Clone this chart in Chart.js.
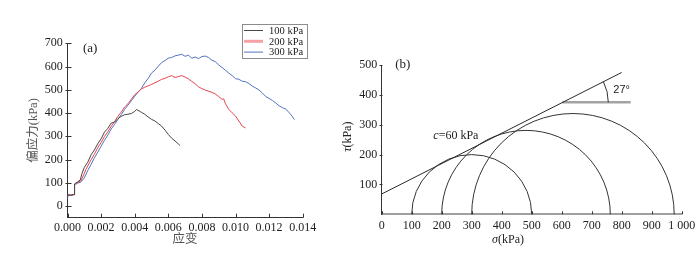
<!DOCTYPE html>
<html>
<head>
<meta charset="utf-8">
<script src="https://cdn.jsdelivr.net/npm/chart.js@4.4.1/dist/chart.umd.min.js"></script>
<style>
  html, body { margin: 0; padding: 0; background: #fff; }
  #wrap { position: relative; width: 700px; height: 261px; }
  #chart-a { position: absolute; left: 0; top: 0; }
  #chart-b { position: absolute; left: 340px; top: 0; }
</style>
</head>
<body>
<div id="wrap">
  <canvas id="chart-a" width="340" height="261"></canvas>
  <canvas id="chart-b" width="360" height="261"></canvas>
</div>
<script>
// (a) deviator stress vs strain
const strainTicks = [0, 0.002, 0.004, 0.006, 0.008, 0.010, 0.012, 0.014];
const stressTicks = [0, 100, 200, 300, 400, 500, 600, 700];
const seriesLabels = ['100 kPa', '200 kPa', '300 kPa'];

const strain100 = [0, 0.0002, 0.0004, 0.00042, 0.0006, 0.00076, 0.00086, 0.001, 0.0012, 0.0014,
  0.0016, 0.0018, 0.002, 0.0022, 0.0024, 0.0026, 0.0028, 0.003, 0.0032, 0.0034,
  0.0036, 0.0038, 0.004, 0.0041, 0.0042, 0.0044, 0.0046, 0.0048, 0.005, 0.0052,
  0.0054, 0.0056, 0.0058, 0.006, 0.0062, 0.0064, 0.0066, 0.0067];
const stress100 = [48, 47, 50, 95, 104, 112, 140, 166, 188, 220,
  241, 268, 289, 318, 334, 357, 361, 376, 386, 393,
  395, 398, 407, 415, 412, 403, 395, 383, 373, 366,
  355, 344, 327, 308, 292, 280, 267, 260];

const strain200 = [0, 0.0002, 0.0004, 0.00042, 0.0006, 0.0008, 0.00096, 0.0011, 0.0012, 0.0014,
  0.0016, 0.0018, 0.002, 0.0022, 0.0024, 0.0026, 0.0028, 0.003, 0.0032, 0.0034,
  0.0036, 0.0038, 0.004, 0.0042, 0.0044, 0.0046, 0.0048, 0.005, 0.0052, 0.0054,
  0.0056, 0.0058, 0.006, 0.0062, 0.0064, 0.0066, 0.0068, 0.007, 0.0072, 0.0074,
  0.0076, 0.0078, 0.008, 0.0082, 0.0084, 0.0086, 0.0088, 0.009, 0.0092, 0.0093,
  0.0094, 0.0096, 0.0098, 0.01, 0.0102, 0.0104, 0.0106];
const stress200 = [48, 47, 50, 94, 102, 108, 134, 158, 172, 199,
  223, 251, 273, 299, 319, 343, 363, 386, 404, 426,
  440, 459, 479, 491, 504, 511, 517, 523, 530, 537,
  545, 549, 556, 561, 553, 557, 561, 555, 547, 536,
  526, 513, 505, 499, 494, 489, 482, 471, 459, 461,
  440, 416, 401, 387, 366, 344, 336];

const strain300 = [0, 0.00003, 0.0002, 0.0004, 0.00042, 0.0006, 0.0008, 0.001, 0.0012, 0.0014,
  0.0016, 0.0018, 0.002, 0.0022, 0.0024, 0.0026, 0.0028, 0.003, 0.0032, 0.0034,
  0.0036, 0.0038, 0.004, 0.0042, 0.0044, 0.0046, 0.0048, 0.005, 0.0052, 0.0054,
  0.0056, 0.0058, 0.006, 0.0062, 0.0064, 0.0066, 0.0068, 0.007, 0.0072, 0.0074,
  0.0076, 0.0078, 0.008, 0.0082, 0.0084, 0.0086, 0.0088, 0.009, 0.0092, 0.0094,
  0.0096, 0.0098, 0.01, 0.0102, 0.0104, 0.0106, 0.0108, 0.011, 0.0112, 0.0114,
  0.0116, 0.0118, 0.012, 0.0122, 0.0124, 0.0126, 0.0128, 0.013, 0.0132, 0.0134,
  0.0135];
const stress300 = [30, 48, 46, 49, 92, 98, 104, 121, 152, 179,
  207, 232, 257, 283, 305, 331, 351, 373, 393, 416,
  434, 453, 472, 490, 506, 530, 549, 572, 584, 601,
  617, 626, 636, 639, 646, 649, 653, 644, 649, 636,
  641, 634, 643, 645, 639, 627, 621, 607, 596, 584,
  572, 561, 548, 545, 537, 535, 527, 516, 508, 499,
  486, 471, 463, 454, 443, 431, 423, 417, 401, 384,
  372];

// (b) Mohr circles and strength envelope
const sigmaTicks = [0, 100, 200, 300, 400, 500, 600, 700, 800, 900, 1000];
const tauTicks = [100, 200, 300, 400, 500];
const sigma3 = [100, 200, 300];
const sigma1 = [500, 762, 975];
const tangentSigma = [0, 800];
const tangentTau = [68, 475];
const refSigma = [602, 830];
const refTau = [375, 375];

const SERIF = "'Liberation Serif', 'Times New Roman', 'Noto Sans CJK SC', serif";
const INK = '#222';

Chart.defaults.font.family = SERIF;
Chart.defaults.font.size = 12;
Chart.defaults.color = INK;

function pairs(xs, ys) {
  return xs.map((x, i) => ({ x, y: ys[i] }));
}

function fixedTicks(values) {
  return scale => { scale.ticks = values.map(v => ({ value: v })); };
}

// short tick marks drawn at the axis line, in and/or out
const tickMarks = {
  id: 'tickMarks',
  afterDraw(chart, args, opts) {
    const { ctx, chartArea } = chart;
    ctx.save();
    ctx.lineWidth = 1;
    ctx.strokeStyle = '#333';
    Object.values(chart.scales).forEach(scale => {
      const spec = opts[scale.id];
      if (!spec) return;
      scale.ticks.forEach(t => {
        const p = Math.round(scale.getPixelForValue(t.value)) + 0.5;
        ctx.beginPath();
        if (scale.isHorizontal()) {
          const y0 = chartArea.bottom;
          ctx.moveTo(p, y0 + spec.out);
          ctx.lineTo(p, y0 - spec.in);
        } else {
          const x0 = Math.round(chartArea.left) + 0.5;
          ctx.moveTo(x0 - spec.out, p);
          ctx.lineTo(x0 + spec.in, p);
        }
        ctx.stroke();
      });
    });
    ctx.restore();
  }
};

const boxLegend = {
  id: 'boxLegend',
  afterDraw(chart) {
    const ctx = chart.ctx;
    ctx.save();
    ctx.fillStyle = '#fff';
    ctx.fillRect(242.5, 24.5, 65, 34);
    ctx.strokeStyle = '#8c8c8c';
    ctx.lineWidth = 1;
    ctx.strokeRect(242.5, 24.5, 65, 34);
    ctx.font = '10.5px ' + SERIF;
    ctx.textBaseline = 'middle';
    chart.data.datasets.forEach((ds, i) => {
      const y = 30.5 + i * 10.8;
      ctx.strokeStyle = ds.legendColor || ds.borderColor;
      ctx.lineWidth = ds.legendWidth || 1;
      ctx.beginPath();
      ctx.moveTo(244, y);
      ctx.lineTo(263, y);
      ctx.stroke();
      ctx.fillStyle = INK;
      ctx.fillText(ds.label, 269, y + 0.5);
    });
    ctx.font = '13px ' + SERIF;
    ctx.fillText('(a)', chart.chartArea.left + 15.5, chart.chartArea.top + 5);
    ctx.restore();
  }
};

function line(label, xs, ys, color, extra) {
  return Object.assign({
    label,
    data: pairs(xs, ys),
    borderColor: color,
    borderWidth: 1,
    pointRadius: 0,
    showLine: true,
    tension: 0,
  }, extra || {});
}

new Chart(document.getElementById('chart-a'), {
  type: 'scatter',
  data: {
    datasets: [
      line(seriesLabels[0], strain100, stress100, '#4f4444'),
      line(seriesLabels[1], strain200, stress200, '#e5454d', { legendColor: '#f5a2a6', legendWidth: 3 }),
      line(seriesLabels[2], strain300, stress300, '#5372c0'),
    ],
  },
  options: {
    responsive: false,
    animation: false,
    layout: { padding: { left: 0, top: 43.3, right: 37.3, bottom: 0 } },
    plugins: {
      legend: { display: false },
      tooltip: { enabled: false },
      tickMarks: { x: { in: 4, out: 0 }, y: { in: 3, out: 3 } },
    },
    scales: {
      x: {
        type: 'linear',
        min: 0,
        max: 0.014,
        afterBuildTicks: fixedTicks(strainTicks),
        afterFit: s => { s.height = 43.3; },
        grid: { display: false, drawTicks: false },
        border: { display: true, color: '#333', width: 1 },
        ticks: { padding: 3, autoSkip: false, maxRotation: 0, callback: v => v.toFixed(3) },
        title: { display: true, text: '应变', color: '#555', font: { size: 12.5 }, padding: { top: 0, bottom: 13.5 } },
      },
      y: {
        type: 'linear',
        min: -50,
        max: 700,
        afterBuildTicks: fixedTicks(stressTicks),
        afterFit: s => { s.width = 67.5; },
        grid: { display: false, drawTicks: false },
        border: { display: true, color: '#333', width: 1 },
        ticks: { padding: 4.8, autoSkip: false },
        title: { display: true, text: '偏应力(kPa)', color: '#555', font: { size: 12.5 }, padding: { top: 26, bottom: 0 } },
      },
    },
  },
  plugins: [tickMarks, boxLegend],
});

function mixedText(ctx, parts, x, y, align) {
  // parts: [[text, italic], ...]
  const widths = parts.map(([t, it]) => {
    ctx.font = (it ? 'italic ' : '') + '12px ' + SERIF;
    return ctx.measureText(t).width;
  });
  const total = widths.reduce((a, b) => a + b, 0);
  let cx = align === 'center' ? x - total / 2 : x;
  parts.forEach(([t, it], i) => {
    ctx.font = (it ? 'italic ' : '') + '12px ' + SERIF;
    ctx.fillText(t, cx, y);
    cx += widths[i];
  });
}

const mohr = {
  id: 'mohr',
  beforeDatasetsDraw(chart) {
    const { ctx, scales: { x, y } } = chart;
    ctx.save();
    ctx.strokeStyle = '#333';
    ctx.lineWidth = 1;
    sigma3.forEach((s3, i) => {
      const c = (sigma1[i] + s3) / 2;
      const r = (sigma1[i] - s3) / 2;
      const px = x.getPixelForValue(c);
      const py = y.getPixelForValue(0);
      const rx = x.getPixelForValue(c + r) - px;
      const ry = py - y.getPixelForValue(r);
      ctx.beginPath();
      ctx.ellipse(px, py, rx, ry, 0, Math.PI, 2 * Math.PI);
      ctx.stroke();
    });
    ctx.restore();
  },
  afterDraw(chart) {
    const { ctx, chartArea, scales: { x, y } } = chart;
    ctx.save();
    ctx.strokeStyle = '#333';
    ctx.lineWidth = 1;
    // friction angle arc
    const ox = x.getPixelForValue(refSigma[0]);
    const oy = y.getPixelForValue(refTau[0]);
    const ang = Math.atan2(
      y.getPixelForValue(tangentTau[0]) - y.getPixelForValue(tangentTau[1]),
      x.getPixelForValue(tangentSigma[1]) - x.getPixelForValue(tangentSigma[0]));
    ctx.beginPath();
    ctx.arc(ox, oy, 46, -ang, 0);
    ctx.stroke();

    ctx.fillStyle = INK;
    ctx.textBaseline = 'middle';
    ctx.font = "11px 'Liberation Sans', Arial, sans-serif";
    ctx.fillText('27°', x.getPixelForValue(772), y.getPixelForValue(415));
    mixedText(ctx, [['c', true], ['=60 kPa', false]], x.getPixelForValue(172), y.getPixelForValue(262), 'left');
    ctx.font = '13px ' + SERIF;
    ctx.fillText('(b)', chartArea.left + 13.5, chartArea.top);
    // axis titles
    mixedText(ctx, [['σ', true], ['(kPa)', false]], 168, 240, 'center');
    ctx.translate(8, 136.7);
    ctx.rotate(-Math.PI / 2);
    mixedText(ctx, [['τ', true], ['(kPa)', false]], 0, 0, 'center');
    ctx.restore();
  }
};

new Chart(document.getElementById('chart-b'), {
  type: 'scatter',
  data: {
    datasets: [
      line('envelope', tangentSigma, tangentTau, '#2a2a2a'),
      line('reference', refSigma, refTau, '#a3a3a3', { borderWidth: 2.5 }),
    ],
  },
  options: {
    responsive: false,
    animation: false,
    layout: { padding: { left: 0, top: 65, right: 18.3, bottom: 0 } },
    plugins: {
      legend: { display: false },
      tooltip: { enabled: false },
      tickMarks: { x: { in: 3, out: 0 }, y: { in: 0, out: 3 } },
    },
    scales: {
      x: {
        type: 'linear',
        min: 0,
        max: 1000,
        afterBuildTicks: fixedTicks(sigmaTicks),
        afterFit: s => { s.height = 46.7; },
        grid: { display: false, drawTicks: false },
        border: { display: true, color: '#a0a0a0', width: 2 },
        ticks: { padding: 4.2, autoSkip: false, maxRotation: 0, callback: v => (v === 1000 ? '1 000' : String(v)) },
      },
      y: {
        type: 'linear',
        min: 0,
        max: 500,
        afterBuildTicks: fixedTicks(tauTicks),
        afterFit: s => { s.width = 41.7; },
        grid: { display: false, drawTicks: false },
        border: { display: true, color: '#333', width: 1 },
        ticks: { padding: 4.4, autoSkip: false },
      },
    },
  },
  plugins: [tickMarks, mohr],
});
</script>
</body>
</html>
